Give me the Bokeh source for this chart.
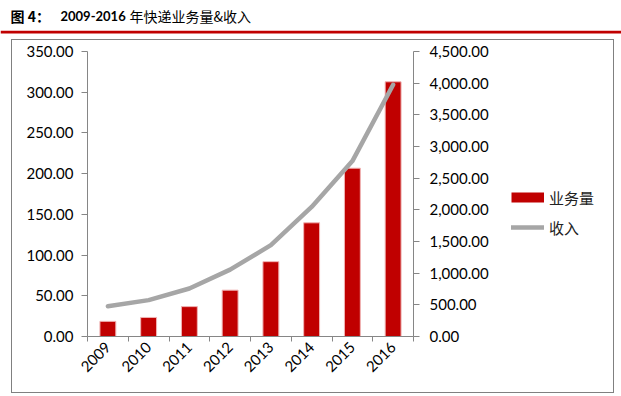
from math import pi
from bokeh.plotting import figure
from bokeh.layouts import column, row
from bokeh.models import (Range1d, LinearAxis, SingleIntervalTicker, FixedTicker, NumeralTickFormatter,
                          Legend, LegendItem, BoxAnnotation, Label, ColumnDataSource)
from bokeh.embed import file_html
from bokeh.resources import INLINE

title_a = "图 4："
title_b = "2009-2016"
title_c = "年快递业务量&收入"
years = ["2009", "2010", "2011", "2012", "2013", "2014", "2015", "2016"]
volume = [18.6, 23.4, 36.7, 56.9, 91.9, 139.6, 206.7, 312.8]          # 业务量
revenue = [479.0, 574.6, 758.0, 1055.3, 1441.7, 2045.4, 2769.6, 3974.4]  # 收入
series_names = ["业务量", "收入"]

left_max, left_step = 350, 50
right_max, right_step = 4500, 500

idx = list(range(len(years)))
bounds = [i - 0.5 for i in range(len(years) + 1)]
src = ColumnDataSource(dict(i=idx, year=years, volume=volume, revenue=revenue))

AXIS_GRAY = "#868686"
TICK_FONT = "Lato"
CJK = "Noto Sans CJK SC"
BAR_RED = "#C00000"
LINE_GRAY = "#A6A6A6"

# ---------------- header (title + red rule) ----------------
h = figure(width=621, height=39, x_range=Range1d(0, 1), y_range=Range1d(0, 1),
           output_backend="svg", toolbar_location=None, title=None,
           x_axis_location=None, y_axis_location=None, min_border=0)
h.outline_line_color = None
h.grid.visible = False
h.add_layout(Label(x=10, y=24, x_units="screen", y_units="screen", text=title_a,
                   text_font=CJK, text_font_size="14px", text_font_style="bold",
                   text_baseline="middle", text_color="#000000"))
h.add_layout(Label(x=60, y=24, x_units="screen", y_units="screen", text=title_b,
                   text_font=TICK_FONT, text_font_size="13px", text_font_style="bold",
                   text_baseline="middle", text_color="#000000"))
h.add_layout(Label(x=129, y=24, x_units="screen", y_units="screen", text=title_c,
                   text_font=CJK, text_font_size="14px",
                   text_baseline="middle", text_color="#000000"))
h.add_layout(BoxAnnotation(top=8.7, bottom=6, top_units="screen", bottom_units="screen",
                           fill_color=BAR_RED, fill_alpha=1, line_color=None))

# ---------------- main chart ----------------
p = figure(width=481, height=352, x_range=Range1d(-0.5, len(years) - 0.5),
           y_range=Range1d(0, left_max), output_backend="svg", toolbar_location=None,
           x_axis_location=None, title=None,
           min_border_left=75, min_border_right=80, min_border_top=11, min_border_bottom=56)
p.outline_line_color = None
p.grid.visible = False
p.extra_y_ranges = {"rev": Range1d(0, right_max)}

ya = p.yaxis[0]
ya.ticker = SingleIntervalTicker(interval=left_step, num_minor_ticks=0)
ya.formatter = NumeralTickFormatter(format="0.00")

ra = LinearAxis(y_range_name="rev", ticker=SingleIntervalTicker(interval=right_step, num_minor_ticks=0),
                formatter=NumeralTickFormatter(format="0,0.00"))
p.add_layout(ra, "right")

for ax in (ya, ra):
    ax.axis_line_color = AXIS_GRAY
    ax.major_tick_line_color = AXIS_GRAY
    ax.major_tick_out = 6
    ax.major_tick_in = 0
    ax.minor_tick_line_color = None
    ax.major_label_text_font = TICK_FONT
    ax.major_label_text_font_size = "15px"
    ax.major_label_text_color = "#000000"
ya.major_label_standoff = 8
ra.major_label_standoff = 10

xa = LinearAxis(ticker=FixedTicker(ticks=idx, minor_ticks=bounds),
                major_label_overrides={i: y for i, y in zip(idx, years)})
xa.axis_line_color = AXIS_GRAY
xa.major_tick_line_color = None
xa.major_tick_out = 5
xa.major_tick_in = 0
xa.minor_tick_line_color = AXIS_GRAY
xa.minor_tick_out = 5
xa.minor_tick_in = 0
xa.major_label_orientation = pi / 4
xa.major_label_standoff = 3
xa.major_label_text_font = TICK_FONT
xa.major_label_text_font_size = "15px"
xa.major_label_text_color = "#000000"
p.add_layout(xa, "below")

p.vbar(x="i", top="volume", width=0.39, source=src,
       fill_color=BAR_RED, line_color="#F0B4B4", line_width=1)
p.line(x="i", y="revenue", source=src, y_range_name="rev",
       line_color=LINE_GRAY, line_width=4.5, line_cap="round", line_join="round")

# ---------------- legend panel ----------------
lf = figure(width=120, height=352, x_range=Range1d(0, 1), y_range=Range1d(0, 1),
            output_backend="svg", toolbar_location=None, title=None,
            x_axis_location=None, y_axis_location=None, min_border=0)
lf.outline_line_color = None
lf.grid.visible = False
# legend key proxies: a single point outside the view, so only the legend keys show
proxy = ColumnDataSource(dict(x=[5.0], y=[5.0]))
k_bar = lf.line(x="x", y="y", source=proxy, line_color=BAR_RED, line_width=10, line_cap="butt")
k_line = lf.line(x="x", y="y", source=proxy, line_color=LINE_GRAY, line_width=4.5, line_cap="round")
legend = Legend(items=[LegendItem(label=series_names[0], renderers=[k_bar]),
                       LegendItem(label=series_names[1], renderers=[k_line])],
                location=(18, 98), padding=0, margin=0, spacing=8,
                glyph_height=22, glyph_width=33, label_height=22, label_standoff=5,
                border_line_color=None, background_fill_alpha=0,
                label_text_font=CJK, label_text_font_size="15px",
                label_text_color="#222222")
lf.add_layout(legend)

box = column(row(p, lf, spacing=0), styles={"border": "1px solid #808080"}, margin=(0, 0, 0, 11))
page = column(h, box, spacing=0)

open("out.html", "w").write(file_html(page, INLINE))
